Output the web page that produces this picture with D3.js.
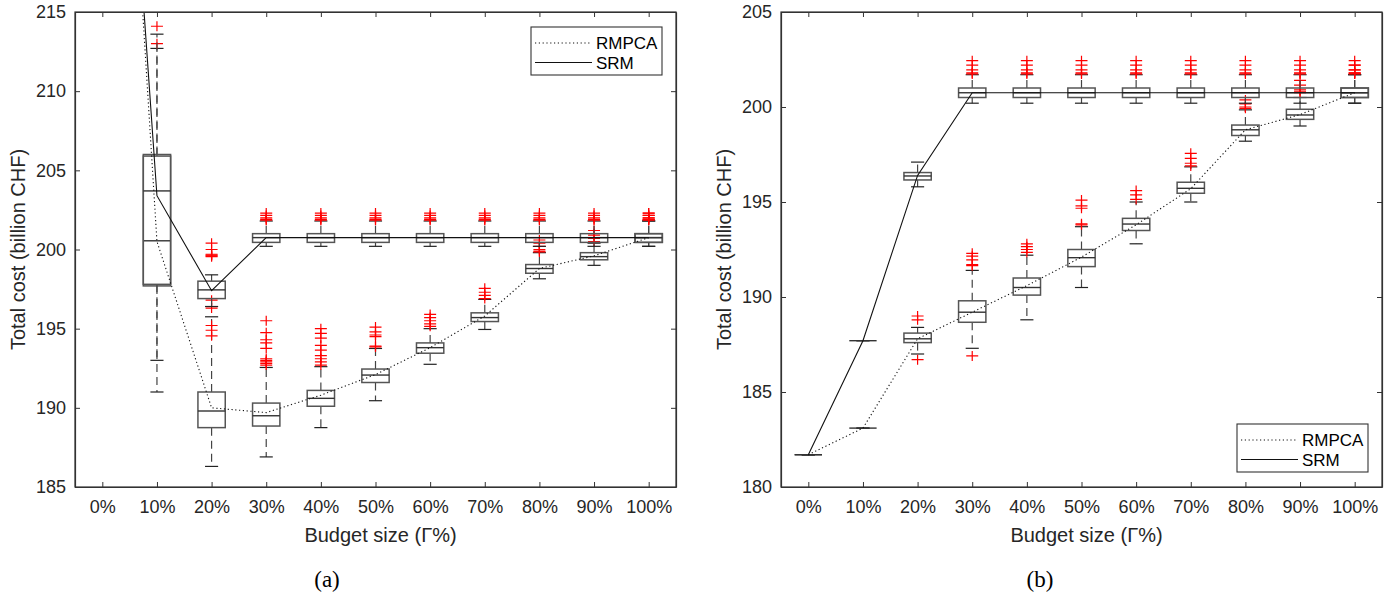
<!DOCTYPE html>
<html>
<head>
<meta charset="utf-8">
<script src="https://cdn.jsdelivr.net/npm/d3@7"></script>
<style>
  html, body { margin: 0; padding: 0; background: #fff; }
  svg { display: block; font-family: "Liberation Sans", Arial, sans-serif; }
</style>
</head>
<body>
<svg id="chart" width="1396" height="599"></svg>
<script>
// ---------- data ----------
const categories = ["0%","10%","20%","30%","40%","50%","60%","70%","80%","90%","100%"];
const yTicksA = [185,190,195,200,205,210,215];
const yTicksB = [180,185,190,195,200,205];
const seriesNames = ["RMPCA","SRM"];

// box stats: [q1, median, q3, lowWhisker, highWhisker]
const rmpcaBoxA = [
  [256,256,256,256,256],
  [197.7,200.55,205.9,191.0,212.7],
  [188.75,189.8,191.0,186.3,195.75],
  [188.85,189.5,190.3,186.9,192.55],
  [190.1,190.6,191.1,188.75,192.6],
  [191.6,192.07,192.45,190.45,193.75],
  [193.45,193.8,194.1,192.75,195.0],
  [195.45,195.7,196.0,194.95,196.85],
  [198.5,198.8,199.05,198.15,199.8],
  [199.35,199.55,199.8,199.0,200.4],
  [200.45,200.75,201.0,200.2,201.8]
];
const rmpcaOutA = [
  [],
  [213.0],
  [196.3,196.8,199.55,199.6,199.65,199.7,200.0,200.4],
  [192.7,192.8,192.9,193.0,193.1,193.75,194.1,194.3,194.75,195.5],
  [192.7,192.9,193.1,193.3,193.65,193.95,194.4,194.7,195.0],
  [193.85,193.9,194.5,194.6,194.8,195.1],
  [195.15,195.3,195.5,195.7,195.9],
  [196.9,197.1,197.3,197.55],
  [199.85,199.9,200.0,200.2,200.4,200.6],
  [200.5,200.7,200.9,201.0,201.2],
  [201.85,201.9,202.0,202.15,202.3]
];
const srmBoxA = [
  [252.5,252.5,252.5,252.5,252.5],
  [197.8,203.7,206.0,193.0,213.6],
  [196.9,197.45,198.0,196.4,198.4],
  [200.45,200.75,201.0,200.2,201.8],
  [200.45,200.75,201.0,200.2,201.8],
  [200.45,200.75,201.0,200.2,201.8],
  [200.45,200.75,201.0,200.2,201.8],
  [200.45,200.75,201.0,200.2,201.8],
  [200.45,200.75,201.0,200.2,201.8],
  [200.45,200.75,201.0,200.2,201.8],
  [200.45,200.75,201.0,200.2,201.8]
];
const srmOutA = [
  [],
  [214.1],
  [195.2,194.9,194.55],
  [201.85,201.9,202.0,202.15,202.3],
  [201.85,201.9,202.0,202.15,202.3],
  [201.85,201.9,202.0,202.15,202.3],
  [201.85,201.9,202.0,202.15,202.3],
  [201.85,201.9,202.0,202.15,202.3],
  [201.85,201.9,202.0,202.15,202.3],
  [201.85,201.9,202.0,202.15,202.3],
  [201.85,201.9,202.0,202.15,202.3]
];
const rmpcaMeanA = [256,200.5,190.0,189.7,190.8,192.1,193.8,195.8,198.8,199.6,200.75];
const srmMeanA   = [252.5,203.4,197.4,200.75,200.75,200.75,200.75,200.75,200.75,200.75,200.75];

const rmpcaBoxB = [
  [181.7,181.7,181.7,181.7,181.7],
  [183.1,183.1,183.1,183.1,183.1],
  [187.6,187.8,188.1,187.0,188.4],
  [188.67,189.2,189.8,187.3,191.4],
  [190.1,190.5,191.0,188.8,192.2],
  [191.6,192.07,192.5,190.5,193.7],
  [193.5,193.84,194.14,192.8,195.0],
  [195.46,195.72,196.04,195.0,196.85],
  [198.5,198.8,199.05,198.2,199.85],
  [199.35,199.58,199.88,199.0,200.5],
  [200.5,200.75,201.0,200.2,201.7]
];
const rmpcaOutB = [
  [],
  [],
  [188.8,189.0,186.7],
  [191.65,191.7,191.95,192.15,192.3,186.9],
  [192.35,192.5,192.65,192.8],
  [193.8,193.85,194.67,194.8,195.1],
  [195.14,195.37,195.6],
  [196.9,197.04,197.3,197.56],
  [199.93,200.0,200.16,200.37],
  [200.75,200.8,200.9,201.15,201.4],
  [201.74,201.8,201.95,202.2]
];
const srmBoxB = [
  [181.7,181.7,181.7,181.7,181.7],
  [187.7,187.7,187.7,187.7,187.7],
  [196.16,196.37,196.55,195.8,197.1],
  [200.5,200.75,201.0,200.2,201.7],
  [200.5,200.75,201.0,200.2,201.7],
  [200.5,200.75,201.0,200.2,201.7],
  [200.5,200.75,201.0,200.2,201.7],
  [200.5,200.75,201.0,200.2,201.7],
  [200.5,200.75,201.0,200.2,201.7],
  [200.5,200.75,201.0,200.2,201.7],
  [200.5,200.75,201.0,200.2,201.7]
];
const srmOutB = [
  [],
  [],
  [],
  [201.74,201.8,201.95,202.2,202.44],
  [201.74,201.8,201.95,202.2,202.44],
  [201.74,201.8,201.95,202.2,202.44],
  [201.74,201.8,201.95,202.2,202.44],
  [201.74,201.8,201.95,202.2,202.44],
  [201.74,201.8,201.95,202.2,202.44],
  [201.74,201.8,201.95,202.2,202.44],
  [201.74,201.8,201.95,202.2,202.44]
];
const rmpcaMeanB = [181.7,183.1,187.8,189.2,190.6,192.1,193.8,195.7,198.8,199.6,200.75];
const srmMeanB   = [181.7,187.7,196.4,200.75,200.75,200.75,200.75,200.75,200.75,200.75,200.75];

// ---------- drawing ----------
const svg = d3.select("#chart");
const TICKFONT = 18;
const LABELFONT = 20;
const LEGENDFONT = 17;

function panel(opts) {
  const {x0, x1, y0, y1, yDomain, yTicks, boxesList, outList, means, legendPos, label, labelX, id} = opts;
  const g = svg.append("g");
  const x = d3.scalePoint().domain(categories).range([x0, x1]).padding(0.5);
  const y = d3.scaleLinear().domain(yDomain).range([y1, y0]);
  const step = x.step();
  const bw = step * 0.5;
  const cw = bw * 0.48;

  g.append("clipPath").attr("id", "clip" + id)
    .append("rect").attr("x", x0).attr("y", y0).attr("width", x1 - x0).attr("height", y1 - y0);
  const plot = g.append("g").attr("clip-path", `url(#clip${id})`);

  const boxColor = "#555";
  boxesList.forEach((boxes, si) => {
    const outs = outList[si];
    categories.forEach((c, i) => {
      const [q1, med, q3, lo, hi] = boxes[i];
      const cx = x(c);
      const bg = plot.append("g");
      bg.append("line").attr("x1", cx).attr("x2", cx).attr("y1", y(q3)).attr("y2", y(hi))
        .attr("stroke", "#444").attr("stroke-width", 1.2).attr("stroke-dasharray", "8,5");
      bg.append("line").attr("x1", cx).attr("x2", cx).attr("y1", y(q1)).attr("y2", y(lo))
        .attr("stroke", "#444").attr("stroke-width", 1.2).attr("stroke-dasharray", "8,5");
      [lo, hi].forEach(v => bg.append("line")
        .attr("x1", cx - cw / 2).attr("x2", cx + cw / 2).attr("y1", y(v)).attr("y2", y(v))
        .attr("stroke", "#222").attr("stroke-width", 1.2));
      bg.append("rect").attr("x", cx - bw / 2).attr("width", bw)
        .attr("y", y(q3)).attr("height", Math.max(0, y(q1) - y(q3)))
        .attr("fill", "none").attr("stroke", boxColor).attr("stroke-width", 1.5);
      bg.append("line").attr("x1", cx - bw / 2).attr("x2", cx + bw / 2).attr("y1", y(med)).attr("y2", y(med))
        .attr("stroke", "#333").attr("stroke-width", 1.4);
      outs[i].forEach(v => {
        const yy = y(v);
        bg.append("path").attr("d", `M${cx - 6},${yy}H${cx + 6}M${cx},${yy - 5}V${yy + 5}`)
          .attr("stroke", "#f00").attr("stroke-width", 1.2).attr("fill", "none");
      });
    });
  });

  const line = d3.line().x((d, i) => x(categories[i])).y(d => y(d));
  plot.append("path").datum(means[0]).attr("d", line).attr("fill", "none")
    .attr("stroke", "#111").attr("stroke-width", 1.1).attr("stroke-dasharray", "1.2,2.6");
  plot.append("path").datum(means[1]).attr("d", line).attr("fill", "none")
    .attr("stroke", "#111").attr("stroke-width", 1.1);

  const axColor = "#333";
  const left = g.append("g").attr("transform", `translate(${x0},0)`)
    .call(d3.axisLeft(y).tickValues(yTicks).tickSizeInner(-5).tickSizeOuter(0).tickPadding(9));
  const right = g.append("g").attr("transform", `translate(${x1},0)`)
    .call(d3.axisRight(y).tickValues(yTicks).tickSizeInner(-5).tickSizeOuter(0).tickFormat(""));
  const bottom = g.append("g").attr("transform", `translate(0,${y1})`)
    .call(d3.axisBottom(x).tickSizeInner(-5).tickSizeOuter(0).tickPadding(13));
  const top = g.append("g").attr("transform", `translate(0,${y0})`)
    .call(d3.axisTop(x).tickSizeInner(-5).tickSizeOuter(0).tickFormat(""));
  [left, right, bottom, top].forEach(a => {
    a.selectAll("path.domain").attr("stroke", axColor).attr("stroke-width", 1.2);
    a.selectAll(".tick line").attr("stroke", axColor);
    a.selectAll("text").attr("font-size", TICKFONT).attr("fill", "#262626")
      .attr("font-family", "Liberation Sans, Arial, sans-serif");
  });
  g.append("rect").attr("x", x0).attr("y", y0).attr("width", x1 - x0).attr("height", y1 - y0)
    .attr("fill", "none").attr("stroke", axColor).attr("stroke-width", 1.2);

  g.append("text").attr("x", (x0 + x1) / 2 + 5).attr("y", 542).attr("text-anchor", "middle")
    .attr("font-size", LABELFONT).attr("fill", "#262626").text("Budget size (Γ%)");
  g.append("text").attr("transform", `translate(${x0 - 50},${(y0 + y1) / 2}) rotate(-90)`)
    .attr("text-anchor", "middle").attr("font-size", LABELFONT).attr("fill", "#262626")
    .text("Total cost (billion CHF)");
  g.append("text").attr("x", labelX).attr("y", 587).attr("text-anchor", "middle")
    .attr("font-size", 23).attr("font-family", "Liberation Serif, serif").attr("fill", "#000").text(label);

  const [lx, ly, lw, lh] = legendPos;
  const lg = g.append("g");
  lg.append("rect").attr("x", lx).attr("y", ly).attr("width", lw).attr("height", lh)
    .attr("fill", "#fff").attr("stroke", axColor).attr("stroke-width", 1.1);
  seriesNames.forEach((name, i) => {
    const ry = ly + 16 + i * 19.5;
    lg.append("line").attr("x1", lx + 4).attr("x2", lx + 61).attr("y1", ry).attr("y2", ry)
      .attr("stroke", "#111").attr("stroke-width", 1.1)
      .attr("stroke-dasharray", i === 0 ? "1.2,2.6" : null);
    lg.append("text").attr("x", lx + 65).attr("y", ry + 6).attr("font-size", LEGENDFONT)
      .attr("fill", "#000").text(name);
  });
}

panel({
  id: "a", x0: 75, x1: 676, y0: 12, y1: 487,
  yDomain: [185, 215], yTicks: yTicksA,
  boxesList: [rmpcaBoxA, srmBoxA], outList: [rmpcaOutA, srmOutA],
  means: [rmpcaMeanA, srmMeanA],
  legendPos: [531, 27, 131, 48], label: "(a)", labelX: 327
});
panel({
  id: "b", x0: 781, x1: 1382, y0: 12, y1: 487,
  yDomain: [180, 205], yTicks: yTicksB,
  boxesList: [rmpcaBoxB, srmBoxB], outList: [rmpcaOutB, srmOutB],
  means: [rmpcaMeanB, srmMeanB],
  legendPos: [1237, 424, 131, 48], label: "(b)", labelX: 1040
});
</script>
</body>
</html>
